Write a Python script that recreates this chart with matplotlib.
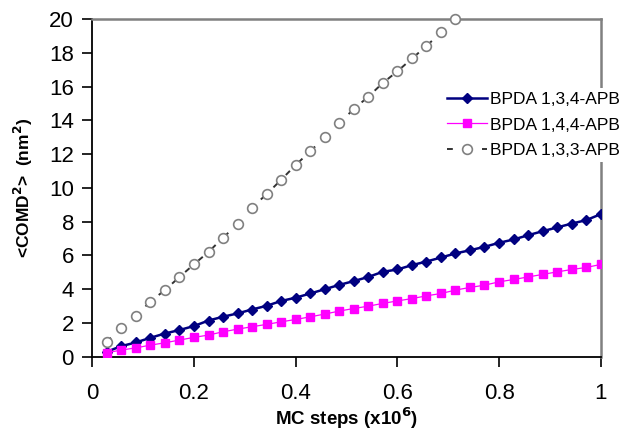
import matplotlib
matplotlib.use("Agg")
import matplotlib.pyplot as plt

plt.rcParams['font.family'] = ['Liberation Sans', 'DejaVu Sans']

# MC steps (x10^6)
mc_steps = [0.029, 0.057, 0.086, 0.114, 0.143, 0.171, 0.2, 0.229, 0.257, 0.286,
            0.314, 0.343, 0.371, 0.4, 0.429, 0.457, 0.486, 0.514, 0.543, 0.571,
            0.6, 0.629, 0.657, 0.686, 0.714, 0.743, 0.771, 0.8, 0.829, 0.857,
            0.886, 0.914, 0.943, 0.971, 1.0]

# <COMD^2> (nm^2)
apb_134 = [0.30, 0.63, 0.85, 1.12, 1.38, 1.58, 1.82, 2.15, 2.37, 2.57,
           2.80, 3.02, 3.30, 3.50, 3.75, 4.00, 4.26, 4.48, 4.73, 5.03,
           5.17, 5.43, 5.64, 5.88, 6.12, 6.31, 6.51, 6.75, 6.95, 7.20,
           7.44, 7.66, 7.89, 8.09, 8.45]
apb_144 = [0.24, 0.40, 0.53, 0.69, 0.83, 0.99, 1.15, 1.29, 1.48, 1.64,
           1.78, 1.92, 2.07, 2.21, 2.37, 2.53, 2.71, 2.86, 3.00, 3.16,
           3.31, 3.45, 3.61, 3.75, 3.95, 4.11, 4.24, 4.44, 4.58, 4.73,
           4.88, 5.03, 5.17, 5.29, 5.47]
apb_133 = [0.89, 1.72, 2.43, 3.25, 3.95, 4.70, 5.47, 6.21, 7.04, 7.85,
           8.82, 9.63, 10.46, 11.35, 12.17, 13.00, 13.83, 14.66, 15.40, 16.20,
           16.90, 17.66, 18.40, 19.20, 20.00]

x_ticks = [0, 0.2, 0.4, 0.6, 0.8, 1]
x_labels = ["0", "0.2", "0.4", "0.6", "0.8", "1"]
y_ticks = list(range(0, 21, 2))

fig = plt.figure(figsize=(6.26, 4.40), dpi=100)
ax = fig.add_axes([0.147, 0.189, 0.813, 0.768])

ax.plot(mc_steps, apb_134, color='#000080', lw=1.8, marker='D', ms=5,
        mfc='#000080', mec='#000080', label='BPDA 1,3,4-APB', zorder=3)
ax.plot(mc_steps, apb_144, color='#FF00FF', lw=0.9, marker='s', ms=6,
        mfc='#FF00FF', mec='#FF00FF', label='BPDA 1,4,4-APB', zorder=4)
ax.plot(mc_steps[:len(apb_133)], apb_133, color='#333333', lw=1.4,
        linestyle=(0, (3, 6)), marker='o', ms=7, mfc='white', mec='#808080',
        mew=1.2, label='BPDA 1,3,3-APB', zorder=3, clip_on=False)

ax.set_xlim(0, 1)
ax.set_ylim(0, 20)
ax.set_xticks(x_ticks)
ax.set_xticklabels(x_labels)
ax.set_yticks(y_ticks)
ax.tick_params(axis='both', direction='out', length=7, width=1.2, labelsize=16)
ax.tick_params(axis='x', pad=12)
ax.tick_params(axis='y', pad=6)

for s in ['left', 'bottom']:
    ax.spines[s].set_color('black')
    ax.spines[s].set_linewidth(1.3)
for s in ['top', 'right']:
    ax.spines[s].set_color('#808080')
    ax.spines[s].set_linewidth(1.8)

ax.set_xlabel('MC steps (x10$^{\\mathbf{6}}$)', fontsize=13.5, fontweight='bold', labelpad=1)
ax.set_ylabel('<COMD$^{\\mathbf{2}}$>  (nm$^{\\mathbf{2}}$)', fontsize=12.5, fontweight='bold', labelpad=10)

leg = ax.legend(loc='upper left', bbox_to_anchor=(0.708, 0.80),
                bbox_transform=fig.transFigure, fontsize=12.5,
                frameon=True, facecolor='white', edgecolor='none', framealpha=1,
                handlelength=2.3, handletextpad=0.2, labelspacing=0.62,
                borderpad=0.2, borderaxespad=0, fancybox=False)
leg.set_zorder(10)

fig.savefig('out.png', dpi=100)
